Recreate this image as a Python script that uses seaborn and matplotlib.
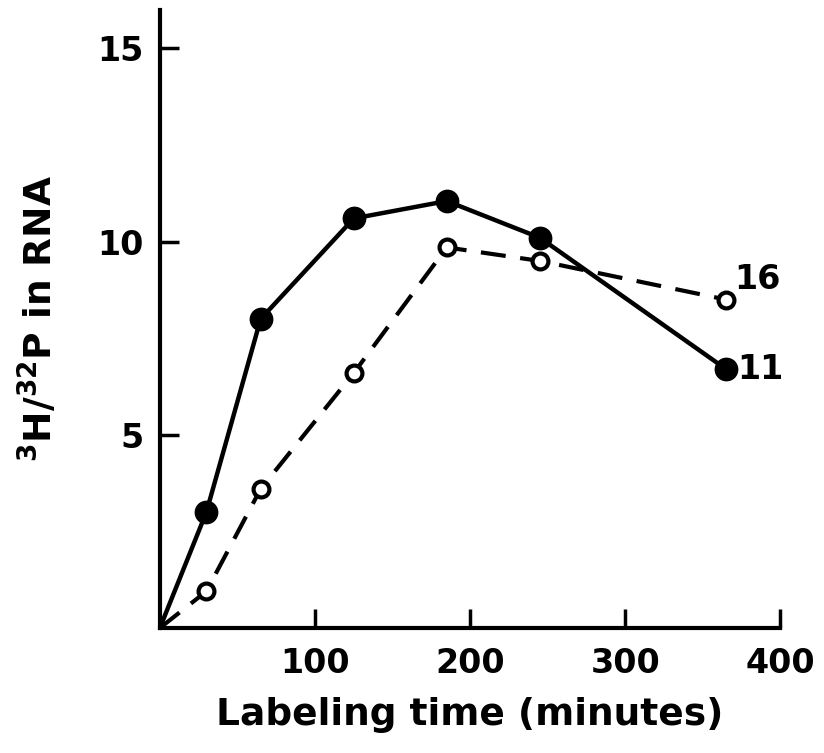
import matplotlib
matplotlib.use("Agg")
import matplotlib.pyplot as plt
import seaborn as sns
import pandas as pd

time_min = [0, 30, 65, 125, 185, 245, 365]
ratio_11 = [0, 3.0, 8.0, 10.6, 11.05, 10.1, 6.7]
ratio_16 = [0, 0.95, 3.6, 6.6, 9.85, 9.5, 8.5]
x_ticks = [100, 200, 300, 400]
y_ticks = [5, 10, 15]

sns.set_theme(style="ticks")
plt.rcParams['font.family'] = ['DejaVu Sans']
plt.rcParams['text.color'] = 'black'
plt.rcParams['axes.labelcolor'] = 'black'
plt.rcParams['xtick.color'] = 'black'
plt.rcParams['ytick.color'] = 'black'
plt.rcParams['xtick.direction'] = 'in'
plt.rcParams['ytick.direction'] = 'in'

fig = plt.figure(figsize=(8.24, 7.53), dpi=100)
ax = fig.add_axes([0.194, 0.166, 0.753, 0.821])

df11 = pd.DataFrame({"t": time_min, "r": ratio_11})
df16 = pd.DataFrame({"t": time_min, "r": ratio_16})

sns.lineplot(data=df11, x="t", y="r", ax=ax, color="black", lw=3.2, sort=False)
sns.lineplot(data=df16, x="t", y="r", ax=ax, color="black", lw=3.0, sort=False,
             dashes=False)
ax.lines[-1].set_dashes([6, 3.5])

sns.scatterplot(data=df11.iloc[1:], x="t", y="r", ax=ax, color="black", s=260,
                edgecolor="black", linewidth=1, zorder=5)
ax.scatter(df16["t"][1:], df16["r"][1:], s=130, facecolor="white",
           edgecolor="black", linewidth=3, zorder=5)

ax.text(370, 8.6, "16", fontsize=24, fontweight="bold", va="bottom", ha="left")
ax.text(372, 6.7, "11", fontsize=24, fontweight="bold", va="center", ha="left")

ax.set_xlim(0, 400)
ax.set_ylim(0, 16)
ax.set_xticks(x_ticks)
ax.set_yticks(y_ticks)
ax.xaxis.set_tick_params(direction="in", length=14, width=2.5, labelsize=24, pad=14)
ax.yaxis.set_tick_params(direction="in", length=14, width=2.5, labelsize=24, pad=12)
for lab in ax.get_xticklabels() + ax.get_yticklabels():
    lab.set_fontweight("bold")

for side in ["top", "right"]:
    ax.spines[side].set_visible(False)
for side in ["left", "bottom"]:
    ax.spines[side].set_linewidth(3)
    ax.spines[side].set_color("black")

ax.set_xlabel("Labeling time (minutes)", fontsize=27, fontweight="bold", labelpad=12)
ax.set_ylabel(r"$\mathbf{^{3}H/^{32}P}$ in RNA", fontsize=27, fontweight="bold", labelpad=26)

fig.savefig("out.png", dpi=100)
